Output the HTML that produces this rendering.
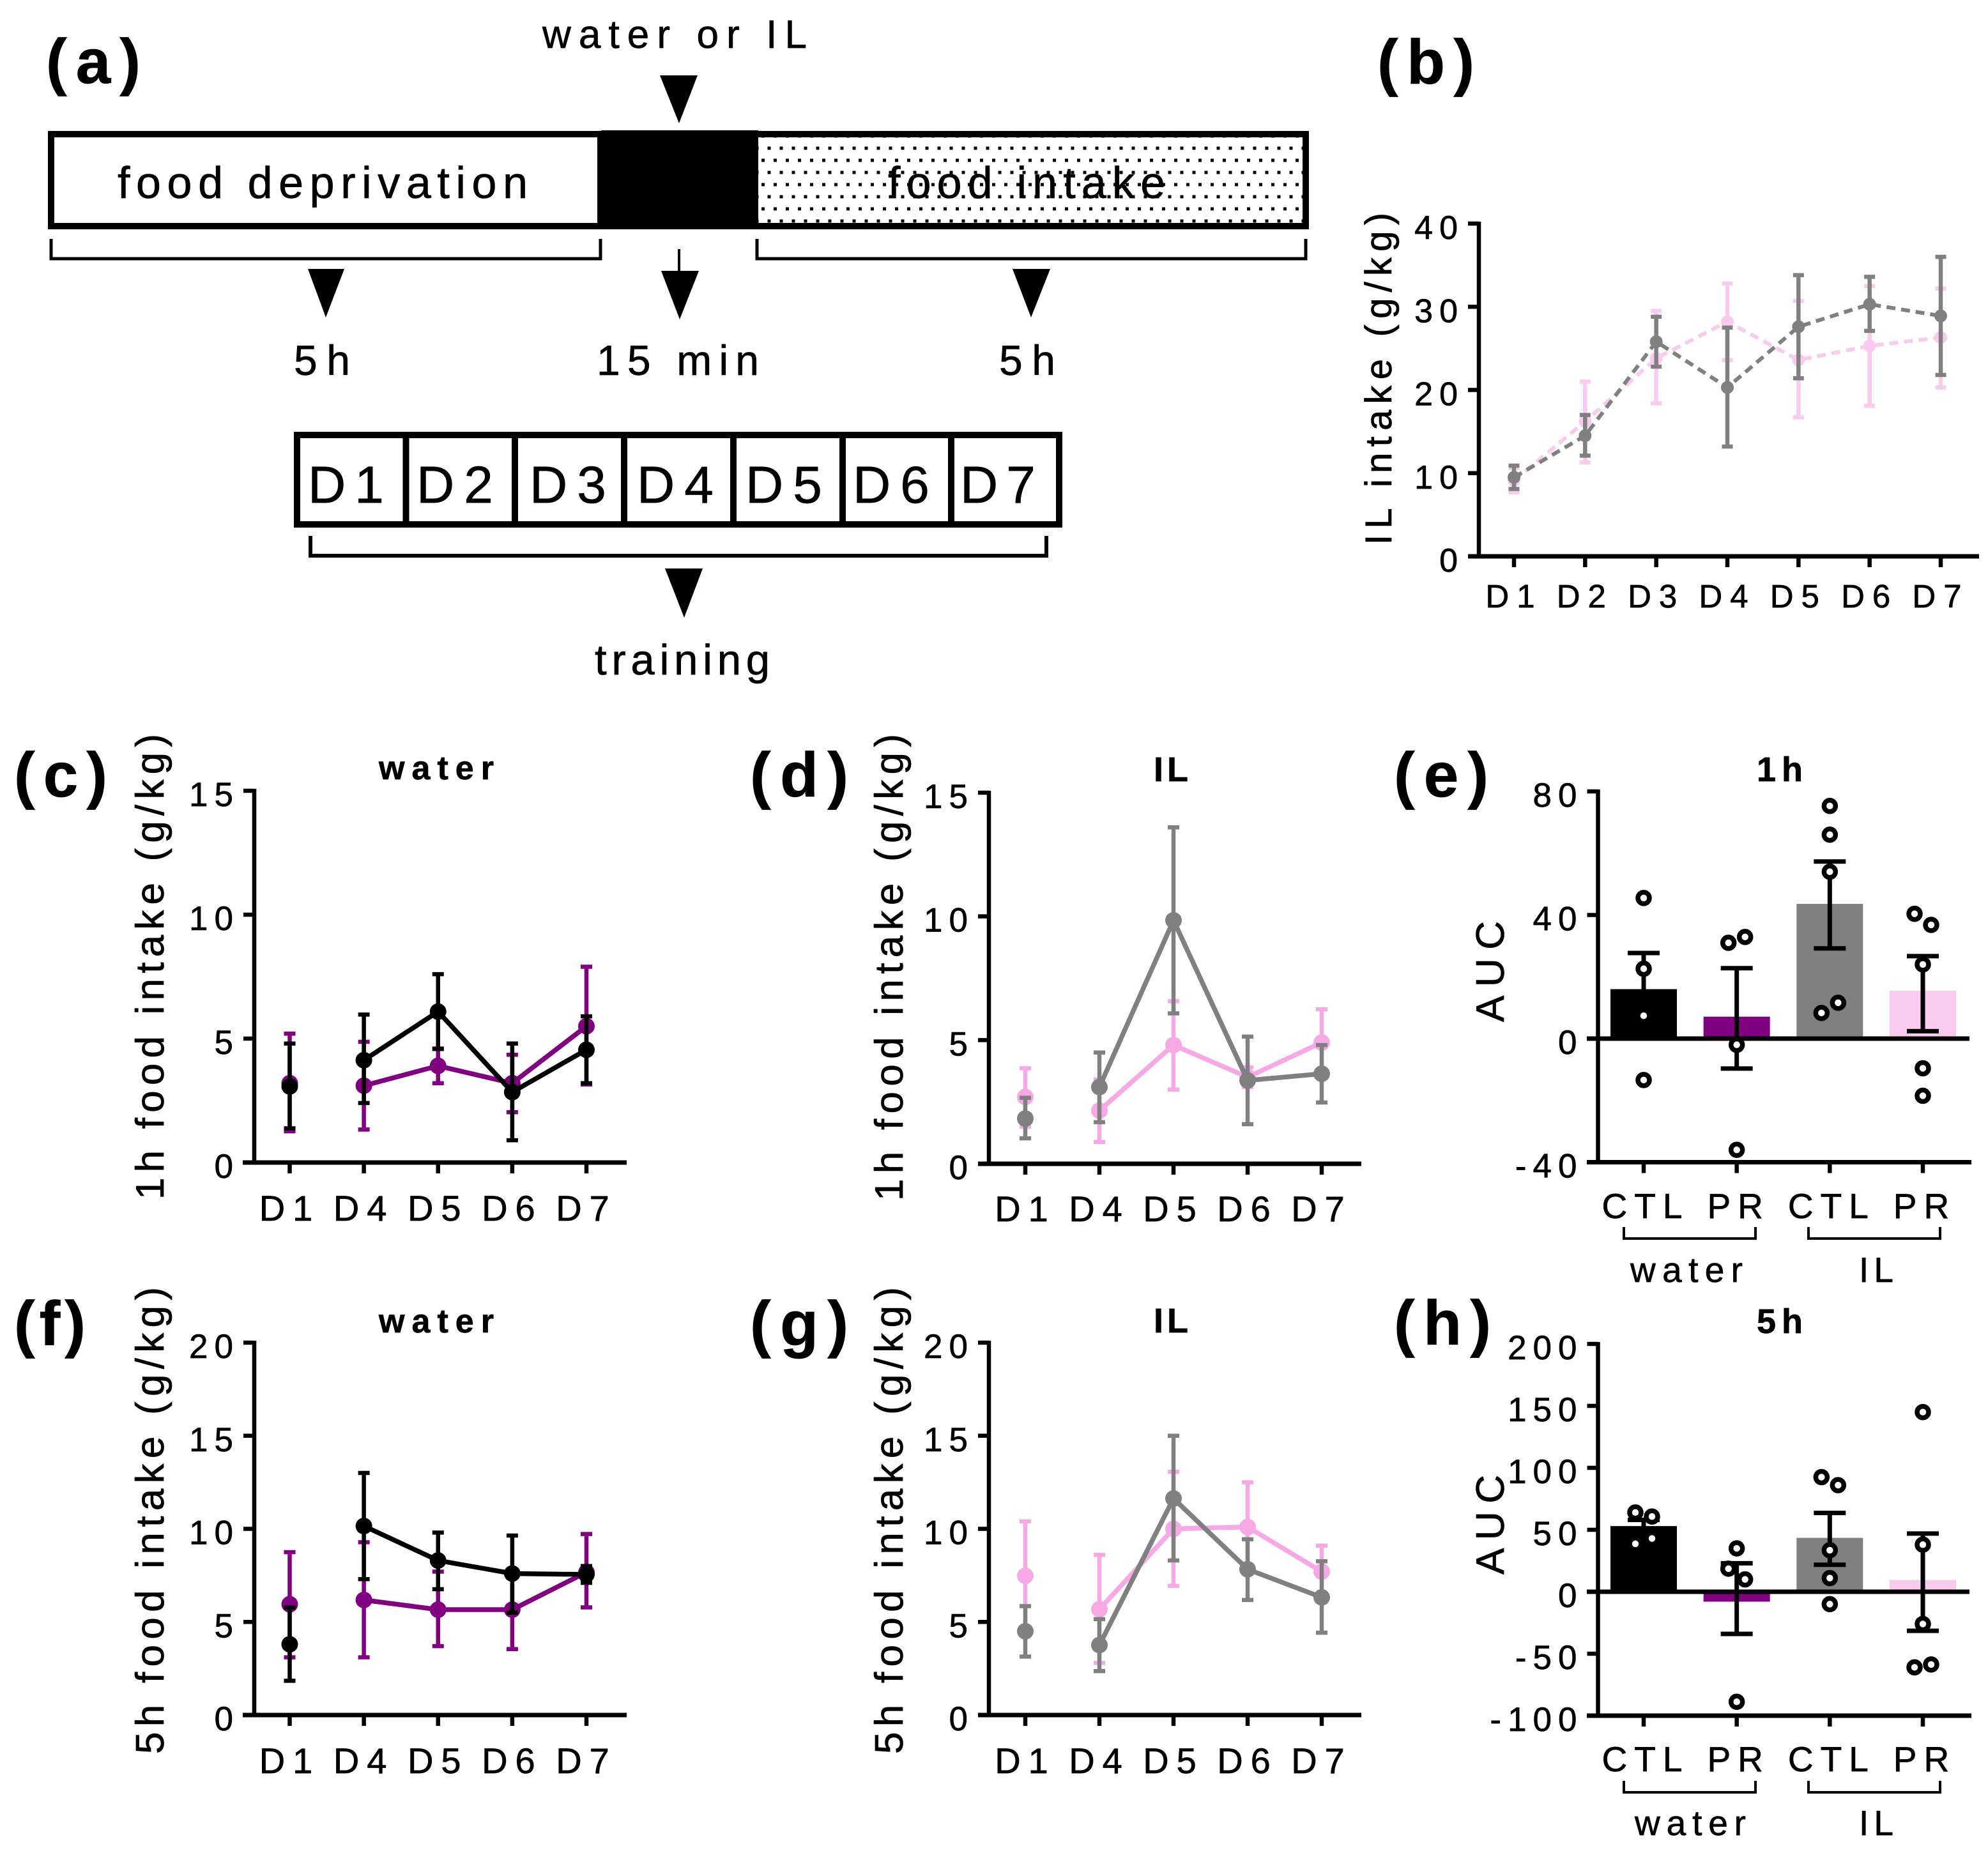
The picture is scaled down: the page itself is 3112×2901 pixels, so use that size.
<!DOCTYPE html>
<html lang="en">
<head>
<meta charset="utf-8">
<title>Food and IL intake figure</title>
<style>
html,body{margin:0;padding:0;background:#fff;}
svg{display:block;}
text{font-family:"Liberation Sans",sans-serif;fill:#000;stroke:#000;stroke-width:.7;}
.b{font-weight:bold;}
</style>
</head>
<body>
<svg id="figure" xmlns="http://www.w3.org/2000/svg" width="3112" height="2901" viewBox="0 0 3112 2901">
<defs>
<pattern id="dots" patternUnits="userSpaceOnUse" x="1201.5" y="229.5" width="19" height="38">
<rect x="0" y="0" width="5" height="5" fill="#000"/>
<rect x="9.5" y="19" width="5" height="5" fill="#000"/>
</pattern>
</defs>
<rect width="3112" height="2901" fill="#fff"/>

<g id="panel-a">
<text class="b" x="72" y="130" font-size="98" textLength="148">(a)</text>
<text x="849" y="75" font-size="62" textLength="414">water or IL</text>
<polygon points="1033,118 1092,118 1063,193" fill="#000"/>
<rect x="80" y="210" width="860" height="144" fill="#fff" stroke="#000" stroke-width="10"/>
<rect x="1182" y="210" width="862" height="144" fill="url(#dots)" stroke="#000" stroke-width="10"/>
<rect x="941" y="204" width="246" height="155" fill="#000"/>
<text x="184" y="310" font-size="70" textLength="642">food deprivation</text>
<text x="1390" y="310" font-size="70" textLength="434">food intake</text>
<path d="M80 374V405H940V374" fill="none" stroke="#000" stroke-width="5"/>
<path d="M1185 374V405H2044V374" fill="none" stroke="#000" stroke-width="5"/>
<polygon points="482,421 539,421 510,497" fill="#000"/>
<line x1="1063" y1="390" x2="1063" y2="428" stroke="#000" stroke-width="4"/>
<polygon points="1035,424 1094,424 1064,500" fill="#000"/>
<polygon points="1585,421 1644,421 1614,497" fill="#000"/>
<text x="460" y="587" font-size="66" textLength="88">5h</text>
<text x="934" y="587" font-size="66" textLength="254">15 min</text>
<text x="1564" y="587" font-size="66" textLength="88">5h</text>
<g>
<rect x="465" y="681" width="1193" height="140" fill="#fff" stroke="#000" stroke-width="10"/>
<line x1="635.5" y1="681" x2="635.5" y2="821" stroke="#000" stroke-width="10"/>
<line x1="806" y1="681" x2="806" y2="821" stroke="#000" stroke-width="10"/>
<line x1="977" y1="681" x2="977" y2="821" stroke="#000" stroke-width="10"/>
<line x1="1148" y1="681" x2="1148" y2="821" stroke="#000" stroke-width="10"/>
<line x1="1319" y1="681" x2="1319" y2="821" stroke="#000" stroke-width="10"/>
<line x1="1489" y1="681" x2="1489" y2="821" stroke="#000" stroke-width="10"/>
<text x="482" y="787" font-size="82" letter-spacing="14">D1</text>
<text x="652" y="787" font-size="82" letter-spacing="15">D2</text>
<text x="829" y="787" font-size="82" letter-spacing="15">D3</text>
<text x="997" y="787" font-size="82" letter-spacing="15">D4</text>
<text x="1167" y="787" font-size="82" letter-spacing="15">D5</text>
<text x="1335" y="787" font-size="82" letter-spacing="15">D6</text>
<text x="1503" y="787" font-size="82" letter-spacing="13">D7</text>
</g>
<path d="M486 839V870H1638V839" fill="none" stroke="#000" stroke-width="6"/>
<polygon points="1041,890 1100,890 1071,967" fill="#000"/>
<text x="931" y="1056" font-size="67" textLength="274">training</text>
</g>

<g id="panel-b">
<text class="b" x="2156" y="131" font-size="98" textLength="152">(b)</text>
<text transform="rotate(-90 2178 853)" x="2178" y="853" font-size="58" textLength="520">IL intake (g/kg)</text>
</g>
<g id="panel-c">
<text class="b" x="22" y="1247" font-size="98" textLength="146">(c)</text>
<text class="b" x="593" y="1220" font-size="52" textLength="180">water</text>
<text transform="rotate(-90 256 1878)" x="256" y="1878" font-size="62" textLength="729">1h food intake (g/kg)</text>
</g>
<g id="panel-d">
<text class="b" x="1174" y="1247" font-size="98" textLength="154">(d)</text>
<text class="b" x="1806" y="1223" font-size="54" textLength="54">IL</text>
<text transform="rotate(-90 1413 1880)" x="1413" y="1880" font-size="62" textLength="731">1h food intake (g/kg)</text>
</g>
<g id="panel-e">
<text class="b" x="2182" y="1247" font-size="98" textLength="148">(e)</text>
<text class="b" x="2750" y="1223" font-size="54" textLength="72">1h</text>
<text transform="rotate(-90 2354 1600)" x="2354" y="1600" font-size="62" textLength="158">AUC</text>
<path d="M2542 1921V1939H2748V1921" fill="none" stroke="#000" stroke-width="4"/>
<path d="M2831 1921V1939H3037V1921" fill="none" stroke="#000" stroke-width="4"/>
<text x="2552" y="2007" font-size="55" textLength="176">water</text>
<text x="2910" y="2007" font-size="55" textLength="54">IL</text>
</g>
<g id="panel-f">
<text class="b" x="22" y="2106" font-size="98" textLength="112">(f)</text>
<text class="b" x="593" y="2086" font-size="52" textLength="180">water</text>
<text transform="rotate(-90 256 2746)" x="256" y="2746" font-size="62" textLength="731">5h food intake (g/kg)</text>
</g>
<g id="panel-g">
<text class="b" x="1174" y="2106" font-size="98" textLength="154">(g)</text>
<text class="b" x="1806" y="2086" font-size="54" textLength="54">IL</text>
<text transform="rotate(-90 1413 2746)" x="1413" y="2746" font-size="62" textLength="731">5h food intake (g/kg)</text>
</g>
<g id="panel-h">
<text class="b" x="2182" y="2105" font-size="98" textLength="152">(h)</text>
<text class="b" x="2750" y="2087" font-size="54" textLength="72">5h</text>
<text transform="rotate(-90 2354 2465)" x="2354" y="2465" font-size="62" textLength="156">AUC</text>
<path d="M2542 2788V2806H2748V2788" fill="none" stroke="#000" stroke-width="4"/>
<path d="M2831 2788V2806H3037V2788" fill="none" stroke="#000" stroke-width="4"/>
<text x="2559" y="2873" font-size="55" textLength="174">water</text>
<text x="2910" y="2873" font-size="55" textLength="54">IL</text>
</g>
</svg>

<script>
/* ---------- panel b ---------- */
const bDays = ['D1','D2','D3','D4','D5','D6','D7'];
const bTicks = [0,10,20,30,40];
const bPinkMean = [9.1,16.2,23.8,28.2,23.6,25.3,26.3];
const bPinkHi = [10.6,21,29.5,32.8,30.7,32.5,32.2];
const bPinkLo = [7.7,11.3,18.4,23.6,16.7,18.1,20.3];
const bGrayMean = [9.5,14.5,25.8,20.3,27.6,30.3,28.9];
const bGrayHi = [10.9,17,28.8,27.5,33.8,33.6,36];
const bGrayLo = [8.1,12.1,22.8,13.2,21.4,27.1,21.8];

/* ---------- panels c, d, f, g ---------- */
const lineDays = ['D1','D4','D5','D6','D7'];
const ticks1h = [0,5,10,15];
const ticks5h = [0,5,10,15,20];

const cPurpleMean = [3.2,3.1,3.9,3.2,5.5];
const cPurpleHi = [5.2,4.87,4.6,4.35,7.9];
const cPurpleLo = [1.26,1.33,3.2,2.03,3.15];
const cBlackMean = [3.07,4.13,6.09,2.84,4.55];
const cBlackHi = [4.8,5.97,7.6,4.8,5.9];
const cBlackLo = [1.38,2.4,4.58,0.9,3.2];

const dPinkMean = [2.7,2.15,4.8,3.5,4.9];
const dPinkHi = [3.86,3.4,6.57,3.9,6.24];
const dPinkLo = [1.5,0.88,3.0,3.1,3.57];
const dGrayMean = [1.83,3.1,9.84,3.37,3.64];
const dGrayHi = [2.67,4.5,13.6,5.14,4.8];
const dGrayLo = [1.03,1.68,6.08,1.6,2.48];

const fPurpleMean = [5.95,6.18,5.66,5.66,7.67];
const fPurpleHi = [8.75,9.28,7.7,7.67,9.72];
const fPurpleLo = [3.1,3.1,3.7,3.54,5.78];
const fBlackMean = [3.8,10.15,8.3,7.6,7.55];
const fBlackHi = [5.78,13,9.8,9.64,8.0];
const fBlackLo = [1.84,7.3,6.76,5.5,7.1];

const gPinkMean = [7.48,5.68,10,10.1,7.7];
const gPinkHi = [10.4,8.6,13.06,12.5,9.1];
const gPinkLo = [4.5,2.8,6.94,7.6,6.3];
const gGrayMean = [4.5,3.76,11.63,7.83,6.32];
const gGrayHi = [5.85,5.15,15,9.44,8.26];
const gGrayLo = [3.14,2.36,8.3,6.18,4.42];

/* ---------- panels e, h ---------- */
const groupLabels = ['CTL','PR','CTL','PR'];
const ticksE = [-40,0,40,80];
const ticksH = [-100,-50,0,50,100,150,200];

const eMeans = [16,7.1,43.6,15.5];
const eHi = [27.7,22.8,57.3,26.7];
const eLo = [4.3,-9.7,29.2,2.4];
const ePointsCtlWater = [45.5,22.6,7.4,-13.4];
const ePointsPrWater = [31,32.9,-2,-36];
const ePointsCtlIl = [75.3,66,54,8.3,11.6];
const ePointsPrIl = [40.4,36.8,24,-9.6,-18.5];

const hMeans = [53,-8,43.5,9.5];
const hHi = [58,23,63.6,47];
const hLo = [48,-34,21.8,-31.5];
const hPointsCtlWater = [64,60.7,38.7,43];
const hPointsPrWater = [35,18.6,10,-88.8];
const hPointsCtlIl = [92.5,86,33.5,11,-10];
const hPointsPrIl = [145,38,-26,-61,-58.7];

const NS = 'http://www.w3.org/2000/svg';
function make(tag, attrs, parent) {
  const node = document.createElementNS(NS, tag);
  for (const key in attrs) node.setAttribute(key, attrs[key]);
  parent.appendChild(node);
  return node;
}
function scale(d0, d1, r0, r1) {
  return function (v) { return r0 + (v - d0) * (r1 - r0) / (d1 - d0); };
}
function drawAxes(root, geo, y, labels, xPos, tickValues) {
  tickValues.forEach(function (t) {
    const tick = make('line', {x1: geo.axisX - 17, x2: geo.axisX, y1: y(t), y2: y(t), stroke: '#000', 'stroke-width': 6.5}, root);
    
    
    const label = make('text', {x: geo.axisX - 23, y: y(t) + 24, 'text-anchor': 'end', 'font-size': geo.tickFont, 'letter-spacing': 10}, root);
    
    
    label.textContent = String(t);
  });
  labels.forEach(function (name, i) {
    const tick = make('line', {x1: xPos(i), x2: xPos(i), y1: geo.bottom, y2: geo.bottom + 17, stroke: '#000', 'stroke-width': 6.5}, root);
    
    
    const label = make('text', {x: xPos(i) + geo.labelDx, y: geo.labelY, 'text-anchor': 'middle', 'font-size': geo.labelFont, 'letter-spacing': geo.labelSpacing}, root);
    
    
    label.textContent = name;
  });
  const yAxis = make('line', {x1: geo.axisX, x2: geo.axisX, y1: geo.top - 3, y2: geo.bottom + 3, stroke: '#000', 'stroke-width': 6.5}, root);
  
  
  const xAxis = make('line', {x1: geo.left, x2: geo.right, y1: geo.bottom, y2: geo.bottom, stroke: '#000', 'stroke-width': 7}, root);
  
  
}
function drawLineChart(id, geo, days, ticks, seriesList) {
  const root = document.getElementById(id);
  const y = scale(ticks[0], ticks[ticks.length - 1], geo.bottom, geo.top);
  const x = scale(0, days.length - 1, geo.first, geo.last);
  drawAxes(root, geo, y, days, x, ticks);
  seriesList.forEach(function (s) {
    const pts = [];
    for (let i = geo.connectFrom; i < s.mean.length; i++) pts.push(x(i) + ',' + y(s.mean[i]));
    const line = make('polyline', {points: pts.join(' '), fill: 'none', stroke: s.color, 'stroke-width': geo.lineWidth, 'stroke-dasharray': geo.dash}, root);
    
    
    s.mean.forEach(function (m, i) {
      const bar = make('line', {x1: x(i), x2: x(i), y1: y(s.hi[i]), y2: y(s.lo[i]), stroke: s.color, 'stroke-width': 6.5}, root);
      
      
      [s.hi[i], s.lo[i]].forEach(function (v) {
        const cap = make('line', {x1: x(i) - geo.cap / 2, x2: x(i) + geo.cap / 2, y1: y(v), y2: y(v), stroke: s.color, 'stroke-width': 6.5}, root);
        
        
      });
      const dot = make('circle', {cx: x(i), cy: y(m), r: geo.radius, fill: s.color}, root);
      
      
    });
  });
}
function drawBarChart(id, geo, labels, ticks, means, hi, lo, pointSets, colors, names) {
  const root = document.getElementById(id);
  const y = scale(ticks[0], ticks[ticks.length - 1], geo.bottom, geo.top);
  const x = function (i) { return geo.first + i * (geo.last - geo.first) / (labels.length - 1); };
  means.forEach(function (m, i) {
    const rect = make('rect', {x: x(i) - geo.barWidth / 2, width: geo.barWidth, y: Math.min(y(m), y(0)), height: Math.abs(y(m) - y(0)), fill: colors[i]}, root);
    
    
  });
  drawAxes(root, geo, y, labels, x, ticks);
  const zero = make('line', {x1: geo.left, x2: geo.right - 3, y1: y(0), y2: y(0), stroke: '#000', 'stroke-width': 7}, root);
  
  
  means.forEach(function (m, i) {
    const stem = make('line', {x1: x(i), x2: x(i), y1: y(hi[i]), y2: y(lo[i]), stroke: '#000', 'stroke-width': 7}, root);
    
    
    [hi[i], lo[i]].forEach(function (v) {
      const cap = make('line', {x1: x(i) - 25, x2: x(i) + 25, y1: y(v), y2: y(v), stroke: '#000', 'stroke-width': 7}, root);
      
      
    });
  });
  pointSets.forEach(function (set, i) {
    let j = 0;
    while (j < set.length) {
      const paired = j + 1 < set.length && Math.abs(y(set[j]) - y(set[j + 1])) < 24;
      const count = paired ? 2 : 1;
      for (let k = 0; k < count; k++) {
        const offset = paired ? (k === 0 ? -13 : 13) : 0;
        const dot = make('circle', {cx: x(i) + offset, cy: y(set[j + k]), r: 9, fill: '#fff', stroke: '#000', 'stroke-width': 7.5}, root);
        
        
      }
      j += count;
    }
  });
}

const BLACK = '#000000', PURPLE = '#800080', GRAY = '#808080', PINK = '#F7A9E6', PALE = '#F9CCEF';

drawLineChart('panel-b',
  {axisX: 2315, left: 2299, right: 3098, top: 350, bottom: 871, first: 2370, last: 3038, labelY: 951, labelDx: 0, labelSpacing: 12, tickFont: 52, labelFont: 51, connectFrom: 0, lineWidth: 6, dash: '14 9', cap: 17, radius: 10},
  bDays, bTicks,
  [{name: 'il-control', color: PALE, mean: bPinkMean, hi: bPinkHi, lo: bPinkLo},
   {name: 'il-treated', color: GRAY, mean: bGrayMean, hi: bGrayHi, lo: bGrayLo}]);

const geoLeftTop = {axisX: 398, left: 380, right: 981, top: 1238, bottom: 1820, first: 453.5, last: 918, labelY: 1911, labelDx: 0, labelSpacing: 12, tickFont: 53, labelFont: 56, connectFrom: 1, lineWidth: 7.5, dash: 'none', cap: 18, radius: 13};
const geoMidTop = {axisX: 1548, left: 1531, right: 2131, top: 1241, bottom: 1822, first: 1605, last: 2069, labelY: 1912, labelDx: 0, labelSpacing: 12, tickFont: 53, labelFont: 56, connectFrom: 1, lineWidth: 7.5, dash: 'none', cap: 18, radius: 13};
const geoLeftBot = {axisX: 398, left: 380, right: 981, top: 2102, bottom: 2685, first: 453.5, last: 918, labelY: 2776, labelDx: 0, labelSpacing: 12, tickFont: 53, labelFont: 56, connectFrom: 1, lineWidth: 7.5, dash: 'none', cap: 18, radius: 13};
const geoMidBot = {axisX: 1548, left: 1531, right: 2131, top: 2102, bottom: 2685, first: 1605, last: 2069, labelY: 2776, labelDx: 0, labelSpacing: 12, tickFont: 53, labelFont: 56, connectFrom: 1, lineWidth: 7.5, dash: 'none', cap: 18, radius: 13};

drawLineChart('panel-c', geoLeftTop, lineDays, ticks1h,
  [{name: 'water-pr', color: PURPLE, mean: cPurpleMean, hi: cPurpleHi, lo: cPurpleLo},
   {name: 'water-ctl', color: BLACK, mean: cBlackMean, hi: cBlackHi, lo: cBlackLo}]);
drawLineChart('panel-d', geoMidTop, lineDays, ticks1h,
  [{name: 'il-pr', color: PINK, mean: dPinkMean, hi: dPinkHi, lo: dPinkLo},
   {name: 'il-ctl', color: GRAY, mean: dGrayMean, hi: dGrayHi, lo: dGrayLo}]);
drawLineChart('panel-f', geoLeftBot, lineDays, ticks5h,
  [{name: 'water-pr', color: PURPLE, mean: fPurpleMean, hi: fPurpleHi, lo: fPurpleLo},
   {name: 'water-ctl', color: BLACK, mean: fBlackMean, hi: fBlackHi, lo: fBlackLo}]);
drawLineChart('panel-g', geoMidBot, lineDays, ticks5h,
  [{name: 'il-pr', color: PINK, mean: gPinkMean, hi: gPinkHi, lo: gPinkLo},
   {name: 'il-ctl', color: GRAY, mean: gGrayMean, hi: gGrayHi, lo: gGrayLo}]);

const barColors = [BLACK, PURPLE, GRAY, PALE];
const barNames = ['water-ctl', 'water-pr', 'il-ctl', 'il-pr'];
drawBarChart('panel-e',
  {axisX: 2501.5, left: 2484, right: 3086, top: 1239, bottom: 1819.5, first: 2573, last: 3010, labelY: 1907, labelDx: 3, labelSpacing: 11, tickFont: 53, labelFont: 55, barWidth: 104},
  groupLabels, ticksE, eMeans, eHi, eLo,
  [ePointsCtlWater, ePointsPrWater, ePointsCtlIl, ePointsPrIl], barColors, barNames);
drawBarChart('panel-h',
  {axisX: 2501.5, left: 2484, right: 3086, top: 2104, bottom: 2686, first: 2573, last: 3010, labelY: 2773, labelDx: 3, labelSpacing: 11, tickFont: 53, labelFont: 55, barWidth: 104},
  groupLabels, ticksH, hMeans, hHi, hLo,
  [hPointsCtlWater, hPointsPrWater, hPointsCtlIl, hPointsPrIl], barColors, barNames);
</script>
</body>
</html>
